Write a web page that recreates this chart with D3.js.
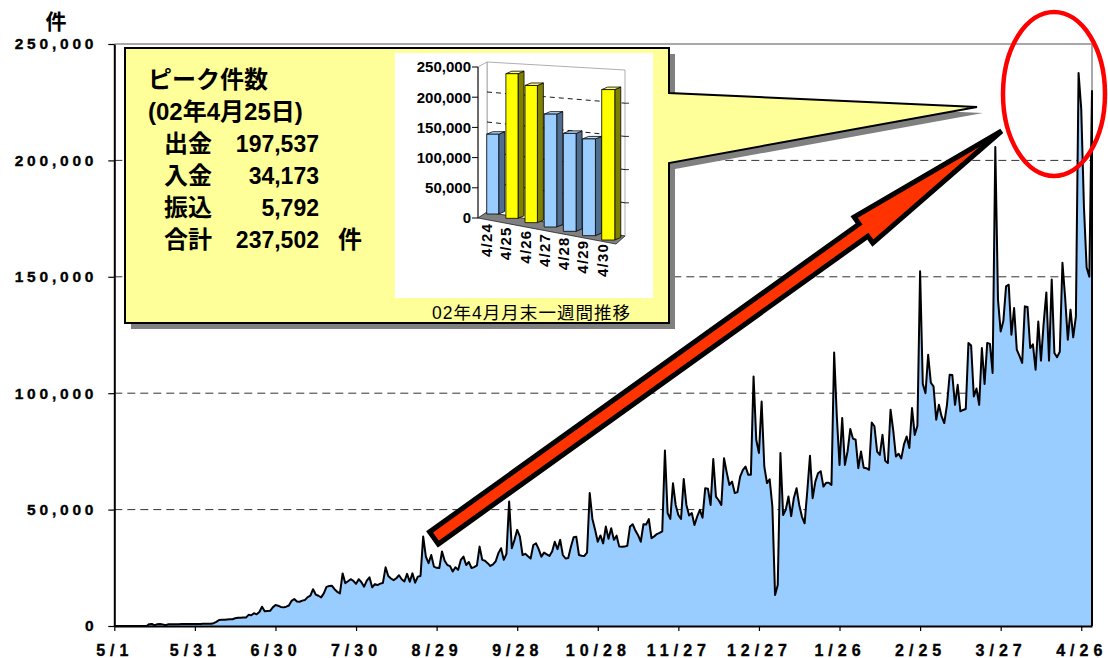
<!DOCTYPE html>
<html><head><meta charset="utf-8">
<script src="https://cdn.jsdelivr.net/npm/d3@7"></script>
<style>body{margin:0;background:#fff}svg{display:block}</style>
</head><body>
<svg id="c" width="1108" height="658"></svg>
<script>
// ---------- data ----------
const startDate = "2001-05-01";
const values = [
0,0,0,0,0,0,0,0,0,0,
0,0,0,800,900,300,800,900,700,300,
700,800,800,800,800,900,900,900,900,900,
900,900,900,1000,1000,1000,1000,1200,1800,2600,
2700,2700,2800,2900,2900,3300,3500,3500,3600,3600,
4800,4600,5500,5000,6000,8300,6300,6400,6500,8000,
9000,8700,8200,8000,8300,8800,10800,11600,10500,10400,
10900,11200,12400,13000,15800,13500,13000,12300,14000,16800,
17200,17300,15800,14700,14000,22600,18400,19200,20100,19400,
18100,20100,18800,16900,19500,20900,16600,18000,17600,18200,
18500,25200,21500,20400,19700,20500,21800,20100,19100,22400,
19000,22600,18600,21200,21500,38400,29800,27000,30500,25500,
25000,24900,32000,28000,26200,25700,23400,25200,24100,28400,
29800,26200,27500,24900,25300,26000,34100,28400,28000,27000,
25800,26500,27800,31300,33400,28400,31000,53500,33400,37000,
41300,38400,30500,31000,30000,29000,34800,35500,33000,29800,
31500,30800,30100,32000,36200,33000,37000,30500,29000,29200,
34000,38100,38300,30500,30200,30100,31500,57100,46000,41300,
36200,38900,35500,42700,37500,42000,37000,38800,34100,34000,
34100,34500,42700,43700,41000,39000,36200,43700,43600,45900,
37700,38500,39500,40000,40600,75400,48500,46000,61300,52000,
47700,46000,63100,52000,47500,48500,43400,47000,49900,46500,
59200,59000,52000,71700,55600,54000,52000,72100,66000,60600,
62000,57100,57500,64200,67000,68500,65000,65000,107200,80000,
74300,96400,68500,61400,63000,51300,13300,17600,74300,47700,
50000,55600,47200,55000,59200,52000,47000,44100,58000,73100,
54900,62000,65600,66500,59900,61500,61500,60600,117500,90000,
69200,89300,69200,75000,84600,80500,80000,67800,75000,68000,
67800,67100,87400,85800,74900,73500,82100,71000,70000,92900,
84000,72800,74000,72000,78000,81400,76500,93600,82100,86000,
152400,104000,100000,116500,104500,102900,88600,95000,90000,87200,
95000,107900,107800,95000,103600,92200,92800,93200,121600,120500,
98600,102000,95000,119400,104000,121600,121200,108700,205800,140200,
126500,131000,145900,146600,125100,136600,118700,116000,113000,137300,
137000,119400,121000,110100,130800,114000,130000,143300,114000,148800,
117300,115500,117800,156000,141000,123000,135900,124000,133000,237502,
222000,180000,154000,150000,230000
];
const yTicks = [0, 50000, 100000, 150000, 200000, 250000];
const xTickDates = ["2001-05-01","2001-05-31","2001-06-30","2001-07-30","2001-08-29","2001-09-28",
  "2001-10-28","2001-11-27","2001-12-27","2002-01-26","2002-02-25","2002-03-27","2002-04-26"];
const xTickLabels = ["5/1","5/31","6/30","7/30","8/29","9/28","10/28","11/27","12/27","1/26","2/25","3/27","4/26"];
const unitLabel = "件";

const peakTitle = ["ピーク件数", "(02年4月25日)"];
const peakItems = ["出金", "入金", "振込", "合計"];
const peakCounts = [197537, 34173, 5792, 237502];

const insetDates = ["4/24","4/25","4/26","4/27","4/28","4/29","4/30"];
const insetValues = [133000, 237502, 222000, 180000, 154000, 150000, 230000];
const insetHighlight = [false, true, true, false, false, false, true];
const insetTicks = [0, 50000, 100000, 150000, 200000, 250000];
const insetCaption = "02年4月月末一週間推移";

// ---------- setup ----------
const svg = d3.select("#c");
const LAT = "Liberation Sans, Arial, Helvetica, sans-serif";
const JP = "Liberation Sans, Noto Sans CJK JP, sans-serif";
const plot = {left: 114.3, right: 1092, top: 44, bottom: 626};
const parse = d3.utcParse("%Y-%m-%d");
const start = parse(startDate);
const series = values.map((v, i) => ({date: d3.utcDay.offset(start, i), value: v}));

const x = d3.scaleUtc().domain(d3.extent(series, d => d.date)).range([plot.left, plot.right]);
const y = d3.scaleLinear().domain([0, 250000]).range([plot.bottom, plot.top]);

// plot border (top / right)
svg.append("path")
  .attr("d", `M${plot.left},${plot.top}H${plot.right}V${plot.bottom}`)
  .attr("fill", "none").attr("stroke", "#8c8c8c").attr("stroke-width", 1.5);

// gridlines
svg.append("g").selectAll("line")
  .data(yTicks.filter(v => v > 0 && v < 250000)).join("line")
  .attr("x1", plot.left).attr("x2", plot.right)
  .attr("y1", d => y(d)).attr("y2", d => y(d))
  .attr("stroke", "#333").attr("stroke-width", 1).attr("stroke-dasharray", "8,5");

// area + line
const area = d3.area().x(d => x(d.date)).y0(y(0)).y1(d => y(d.value));
svg.append("path").datum(series).attr("d", area).attr("fill", "#99CCFF");
const line = d3.line().x(d => x(d.date)).y(d => y(d.value));
svg.append("path").datum(series).attr("d", line)
  .attr("fill", "none").attr("stroke", "#000").attr("stroke-width", 2).attr("stroke-linejoin", "round");
const last = series[series.length - 1];
svg.append("line")
  .attr("x1", x(last.date)).attr("x2", x(last.date))
  .attr("y1", y(last.value)).attr("y2", y(0))
  .attr("stroke", "#000").attr("stroke-width", 2);

// axes
const gx = svg.append("g").attr("transform", `translate(0,${plot.bottom})`)
  .call(d3.axisBottom(x).tickValues(xTickDates.map(parse))
    .tickFormat((d, i) => xTickLabels[i]).tickSize(5).tickSizeOuter(0));
gx.attr("font-family", LAT).attr("font-size", 16);
gx.select(".domain").attr("stroke", "#000").attr("stroke-width", 2);
gx.selectAll(".tick line").attr("stroke", "#000").attr("stroke-width", 1.2);
gx.selectAll(".tick text").attr("y", 19).attr("font-weight", "bold")
  .attr("letter-spacing", 5).attr("fill", "#000")
  .attr("stroke", "#000").attr("stroke-width", 0.35);

const gy = svg.append("g").attr("transform", `translate(${plot.left},0)`)
  .call(d3.axisLeft(y).tickValues(yTicks).tickFormat(d3.format(",")).tickSize(6).tickSizeOuter(0));
gy.attr("font-family", LAT).attr("font-size", 15.5);
gy.select(".domain").attr("stroke", "#000").attr("stroke-width", 2);
gy.selectAll(".tick line").attr("stroke", "#000").attr("stroke-width", 1.2);
gy.selectAll(".tick text").attr("x", -17).attr("font-weight", "bold")
  .attr("letter-spacing", 3.8).attr("fill", "#000")
  .attr("stroke", "#000").attr("stroke-width", 0.35);

svg.append("text").attr("x", 56).attr("y", 29).attr("text-anchor", "middle")
  .attr("font-family", JP).attr("font-weight", "bold").attr("font-size", 21).text(unitLabel);

// ---------- callout ----------
const callout = [[125,48],[669,48],[669,93],[977,107],[669,163],[669,323],[125,323]];
svg.append("polygon").attr("points", callout.map(p => [p[0] + 6, p[1] + 6].join(",")).join(" "))
  .attr("fill", "#808080");
svg.append("polygon").attr("points", callout.map(p => p.join(",")).join(" "))
  .attr("fill", "#FFFF99").attr("stroke", "#000").attr("stroke-width", 2).attr("stroke-linejoin", "miter");

const tg = svg.append("g").attr("font-family", JP).attr("font-weight", "bold").attr("fill", "#000");
tg.append("text").attr("x", 148).attr("y", 88).attr("font-size", 24).text(peakTitle[0]);
tg.append("text").attr("x", 148).attr("y", 119.5).attr("font-size", 24).text(peakTitle[1]);
const fmt = d3.format(",");
peakItems.forEach((lab, i) => {
  const by = 151.5 + i * 32;
  tg.append("text").attr("x", 164).attr("y", by).attr("font-size", 24).text(lab);
  tg.append("text").attr("x", 319).attr("y", by).attr("font-size", 23)
    .attr("text-anchor", "end").attr("font-family", LAT).text(fmt(peakCounts[i]));
});
tg.append("text").attr("x", 338).attr("y", 151.5 + 3 * 32).attr("font-size", 24).text(unitLabel);

// ---------- inset 3D bar chart ----------
const ig = svg.append("g");
ig.append("rect").attr("x", 395).attr("y", 53).attr("width", 258).attr("height", 245).attr("fill", "#fff");
const yF = d3.scaleLinear().domain([0, 250000]).range([218, 67]);   // front-left axis
const yBL = d3.scaleLinear().domain([0, 250000]).range([212, 62]);  // back-left corner
const yBR = d3.scaleLinear().domain([0, 250000]).range([236, 70]);  // back-right corner
const xF = 478, xBL = 487, xBR = 625;
ig.append("polygon").attr("points", `${xBL},${yBL(250000)} ${xBR},${yBR(250000)} ${xBR},${yBR(0)} ${xBL},${yBL(0)}`)
  .attr("fill", "#fff").attr("stroke", "#999").attr("stroke-width", 0.8);
ig.append("polygon").attr("points", `${xF},${yF(250000)} ${xBL},${yBL(250000)} ${xBL},${yBL(0)} ${xF},${yF(0)}`)
  .attr("fill", "#fff").attr("stroke", "#999").attr("stroke-width", 0.8);
ig.selectAll(".ig").data(insetTicks.filter(v => v > 0 && v < 250000)).join("line")
  .attr("x1", xBL).attr("x2", xBR).attr("y1", d => yBL(d)).attr("y2", d => yBR(d))
  .attr("stroke", "#000").attr("stroke-width", 0.9).attr("stroke-dasharray", "5,4");
ig.selectAll(".rt").data(insetTicks.filter(v => v > 0 && v < 250000)).join("line")
  .attr("x1", xBR).attr("x2", xBR + 4).attr("y1", d => yBR(d)).attr("y2", d => yBR(d))
  .attr("stroke", "#000").attr("stroke-width", 0.8);
ig.append("polygon").attr("points", `${xF},${yF(0)} ${xBL},${yBL(0)} ${xBR},${yBR(0)} 616,244`)
  .attr("fill", "#808080").attr("stroke", "#222").attr("stroke-width", 0.8);
ig.append("line").attr("x1", xF).attr("x2", xF).attr("y1", yF(0)).attr("y2", yF(250000))
  .attr("stroke", "#000").attr("stroke-width", 1);
ig.selectAll(".lt").data(insetTicks).join("line")
  .attr("x1", xF - 6).attr("x2", xF).attr("y1", d => yF(d)).attr("y2", d => yF(d))
  .attr("stroke", "#000").attr("stroke-width", 1);
ig.selectAll(".ll").data(insetTicks).join("text")
  .attr("x", 471).attr("y", d => yF(d) + 5.3).attr("text-anchor", "end")
  .attr("font-family", LAT).attr("font-weight", "bold").attr("font-size", 15).text(d => fmt(d));

const xb = d3.scaleBand().domain(insetDates).range([480, 620.4]).paddingInner(0.375).paddingOuter(0.35);
const idx = d3.scaleLinear().domain([0, insetDates.length - 1]);
const base = idx.copy().range([214, 240]);
const persp = idx.copy().range([1, 1.09]);
const hS = d3.scaleLinear().domain([0, 250000]).range([0, 150]);
const dx = 6, dy = -2.5;
insetDates.forEach((d, i) => {
  const x0 = xb(d), w = xb.bandwidth() * persp(i), yb = base(i);
  const yt = yb - hS(insetValues[i]) * persp(i);
  const hl = insetHighlight[i];
  const front = hl ? "#FFFF00" : "#99CCFF", side = hl ? "#808000" : "#4F6E8F", top = hl ? "#FFFF66" : "#B8DCFF";
  const g = ig.append("g").attr("stroke", "#000").attr("stroke-width", 0.8).attr("stroke-linejoin", "round");
  g.append("polygon").attr("points", `${x0+w},${yb} ${x0+w},${yt} ${x0+w+dx},${yt+dy} ${x0+w+dx},${yb+dy}`).attr("fill", side);
  g.append("polygon").attr("points", `${x0},${yt} ${x0+dx},${yt+dy} ${x0+w+dx},${yt+dy} ${x0+w},${yt}`).attr("fill", top);
  g.append("rect").attr("x", x0).attr("y", yt).attr("width", w).attr("height", yb - yt).attr("fill", front);
  ig.append("text")
    .attr("transform", `translate(${x0 + w / 2 - 0.5},${yb + 9 - i}) rotate(-90)`)
    .attr("text-anchor", "end").attr("font-family", LAT).attr("font-weight", "bold")
    .attr("font-size", 15).attr("letter-spacing", 1.2).text(d);
});
ig.append("text").attr("x", 432).attr("y", 319).attr("font-family", JP).attr("font-size", 17.5)
  .attr("textLength", 198).attr("lengthAdjust", "spacing").text(insetCaption);

// ---------- arrow ----------
const tail = [x(series[119].date), 538], tip = [x(series[327].date) + 9, 131];
const L = Math.hypot(tip[0] - tail[0], tip[1] - tail[1]);
const u = [(tip[0] - tail[0]) / L, (tip[1] - tail[1]) / L], n = [-u[1], u[0]];
const hw = 7.5, hh = 16, hl = 170;
const B = [tip[0] - u[0] * hl, tip[1] - u[1] * hl];
const P = (p, k) => [p[0] + n[0] * k, p[1] + n[1] * k];
const arrowPts = [P(tail, hw), P(B, hw), P(B, hh), tip, P(B, -hh), P(B, -hw), P(tail, -hw)];
svg.append("polygon").attr("points", arrowPts.map(p => p.join(",")).join(" "))
  .attr("fill", "#FF3300").attr("stroke", "#000").attr("stroke-width", 5).attr("stroke-linejoin", "miter");

// ---------- highlight ellipse ----------
svg.append("ellipse").attr("cx", 1054).attr("cy", 94).attr("rx", 51).attr("ry", 82)
  .attr("fill", "none").attr("stroke", "#FF0000").attr("stroke-width", 4.5);
</script>
</body></html>
